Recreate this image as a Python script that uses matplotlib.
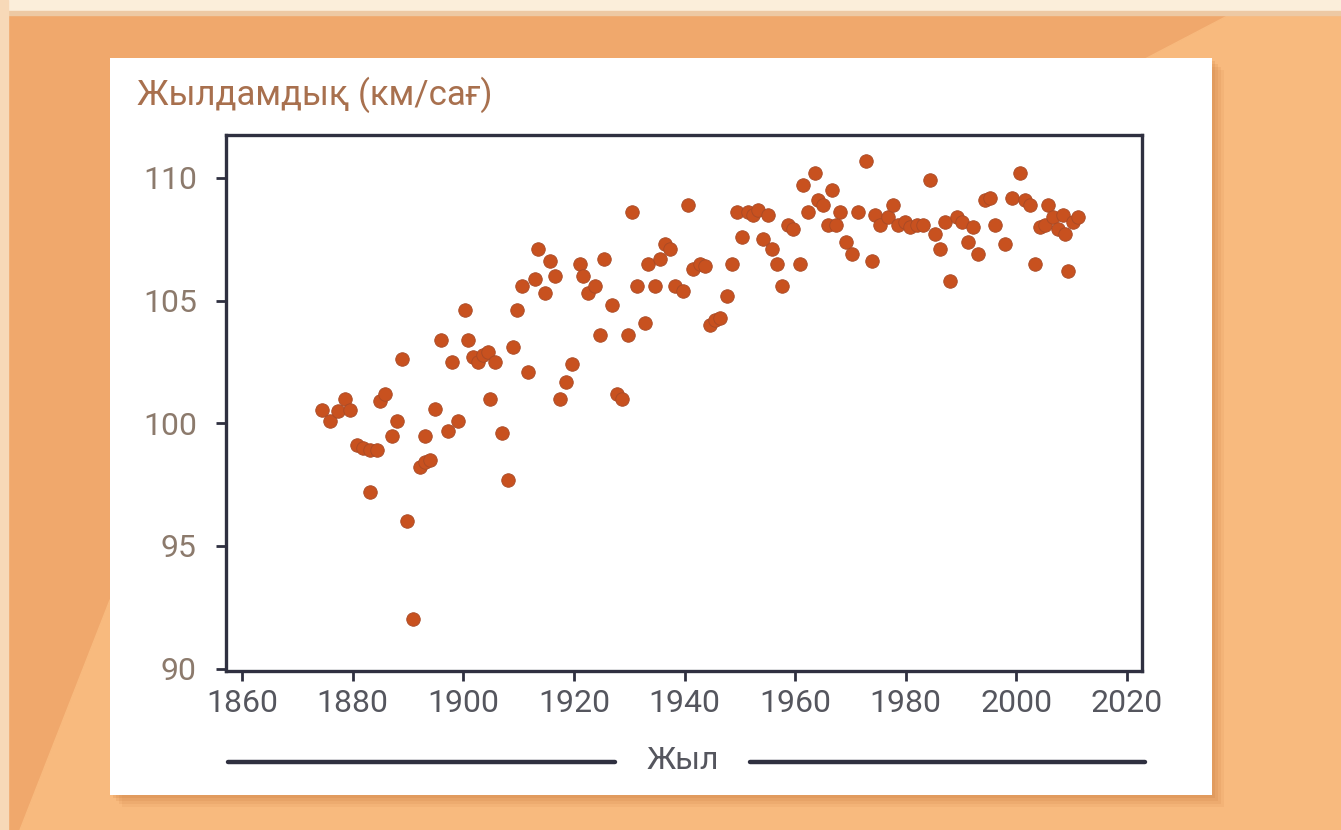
import matplotlib
matplotlib.use("Agg")
import matplotlib.pyplot as plt
from matplotlib.patches import Rectangle, Polygon
import numpy as np

plt.rcParams['font.family'] = ['Roboto', 'DejaVu Sans']

# data (year, speed km/h)
years = [1874.5, 1875.9, 1877.4, 1878.6, 1879.5, 1880.8, 1881.9, 1883.1, 1884.4, 1883.1,
         1885.0, 1885.9, 1887.1, 1888.0, 1888.9, 1889.8, 1890.9, 1892.2, 1893.1, 1893.1,
         1894.0, 1894.9, 1896.0, 1897.3, 1898.0, 1899.1, 1900.3, 1900.9, 1901.8, 1902.7,
         1903.6, 1904.5, 1904.8, 1905.8, 1907.0, 1908.1, 1909.0, 1909.7, 1910.6, 1911.7,
         1913.0, 1913.5, 1914.8, 1915.7, 1916.6, 1917.5, 1918.6, 1919.7, 1921.1, 1921.7,
         1922.6, 1923.8, 1924.7, 1925.5, 1926.9, 1927.8, 1928.7, 1929.8, 1930.5, 1931.4,
         1932.9, 1933.4, 1934.7, 1935.6, 1936.5, 1937.4, 1938.3, 1939.7, 1940.7, 1941.6,
         1942.8, 1943.7, 1944.6, 1945.5, 1946.4, 1947.7, 1948.6, 1949.5, 1950.4, 1951.5,
         1952.4, 1953.3, 1954.2, 1955.1, 1955.8, 1956.7, 1957.6, 1958.7, 1959.6, 1960.9,
         1961.4, 1962.4, 1963.6, 1964.2, 1965.1, 1966.0, 1966.7, 1967.3, 1968.1, 1969.2,
         1970.3, 1971.4, 1972.8, 1973.9, 1974.5, 1975.4, 1976.8, 1977.7, 1978.6, 1979.9,
         1980.8, 1982.1, 1983.1, 1984.3, 1985.3, 1986.2, 1987.1, 1988.0, 1989.3, 1990.2,
         1991.3, 1992.2, 1993.1, 1994.4, 1995.3, 1996.2, 1998.0, 1999.2, 2000.7, 2001.6,
         2002.5, 2003.4, 2004.3, 2005.2, 2005.7, 2006.7, 2007.6, 2008.5, 2008.8, 2009.4,
         2010.3, 2011.2]
speeds = [100.55, 100.1, 100.5, 101.0, 100.55, 99.1, 99.0, 98.9, 98.9, 97.2,
          100.9, 101.2, 99.5, 100.1, 102.6, 96.0, 92.0, 98.2, 98.4, 99.5,
          98.5, 100.6, 103.4, 99.7, 102.5, 100.1, 104.6, 103.4, 102.7, 102.5,
          102.8, 102.9, 101.0, 102.5, 99.6, 97.7, 103.1, 104.6, 105.6, 102.1,
          105.9, 107.1, 105.3, 106.6, 106.0, 101.0, 101.7, 102.4, 106.5, 106.0,
          105.3, 105.6, 103.6, 106.7, 104.8, 101.2, 101.0, 103.6, 108.6, 105.6,
          104.1, 106.5, 105.6, 106.7, 107.3, 107.1, 105.6, 105.4, 108.9, 106.3,
          106.5, 106.4, 104.0, 104.2, 104.3, 105.2, 106.5, 108.6, 107.6, 108.6,
          108.5, 108.7, 107.5, 108.5, 107.1, 106.5, 105.6, 108.1, 107.9, 106.5,
          109.7, 108.6, 110.2, 109.1, 108.9, 108.1, 109.5, 108.1, 108.6, 107.4,
          106.9, 108.6, 110.7, 106.6, 108.5, 108.1, 108.4, 108.9, 108.1, 108.2,
          108.0, 108.1, 108.1, 109.9, 107.7, 107.1, 108.2, 105.8, 108.4, 108.2,
          107.4, 108.0, 106.9, 109.1, 109.2, 108.1, 107.3, 109.2, 110.2, 109.1,
          108.9, 106.5, 108.0, 108.1, 108.9, 108.4, 107.9, 108.5, 107.7, 106.2,
          108.2, 108.4]

x_ticks = [1860, 1880, 1900, 1920, 1940, 1960, 1980, 2000, 2020]
y_ticks = [90, 95, 100, 105, 110]
title = "Жылдамдық (км/сағ)"
xlabel = "Жыл"

W, H = 1341, 830
fig = plt.figure(figsize=(W / 100, H / 100), dpi=100)

# background decoration in pixel coordinates
bg = fig.add_axes([0, 0, 1, 1])
bg.set_xlim(0, W)
bg.set_ylim(H, 0)
bg.axis('off')
bg.add_patch(Rectangle((0, 0), W, H, color='#F0A86C', zorder=0))
bg.add_patch(Polygon([(1235, 12), (W, 12), (W, H), (20, H), (110, 600)],
                     closed=True, color='#F8BA7E', zorder=1))
bg.add_patch(Rectangle((0, 0), W, 11, color='#FBEEDA', zorder=2))
bg.add_patch(Rectangle((0, 11), W, 4, color='#EDC9A4', zorder=2))
bg.add_patch(Rectangle((0, 0), 8, H, color='#F7D9B8', zorder=2))
# card shadow + card
for off, a in [(12, 0.10), (9, 0.12), (6, 0.15), (3, 0.18)]:
    bg.add_patch(Rectangle((110 + off, 58 + off), 1102, 737, color='#C9783A',
                           alpha=a, lw=0, zorder=3))
bg.add_patch(Rectangle((110, 58), 1102, 737, color='white', lw=0, zorder=4))

# x-label with rules on each side
bg.plot([228, 615], [762, 762], color='#2F3040', lw=3.2, solid_capstyle='round', zorder=5)
bg.plot([750, 1145], [762, 762], color='#2F3040', lw=3.2, solid_capstyle='round', zorder=5)
bg.text(683, 760, xlabel, ha='center', va='center', fontsize=23, color='#55565E', zorder=5)
bg.text(137, 95, title, ha='left', va='center', fontsize=25, color='#A8704E', zorder=5)

frame_col = '#2F3040'
ax = fig.add_axes([226 / W, 1 - 671 / H, (1142 - 226) / W, (671 - 135) / H])
ax.set_facecolor('white')
ax.scatter(years, speeds, s=95, color='#C8511F', edgecolors='#A84A26',
           linewidths=0.6, zorder=3)

ax.set_xlim(1857.1, 2022.7)
ax.set_ylim(89.9, 111.75)
ax.set_xticks(x_ticks)
ax.set_yticks(y_ticks)
for s in ax.spines.values():
    s.set_color(frame_col)
    s.set_linewidth(2.4)
ax.tick_params(axis='both', direction='out', length=7, width=2, color=frame_col,
               labelsize=23)
ax.tick_params(axis='x', labelcolor='#55565E', pad=6)
ax.tick_params(axis='y', labelcolor='#8C7A6C', pad=14)

fig.savefig('out.png', dpi=100)
